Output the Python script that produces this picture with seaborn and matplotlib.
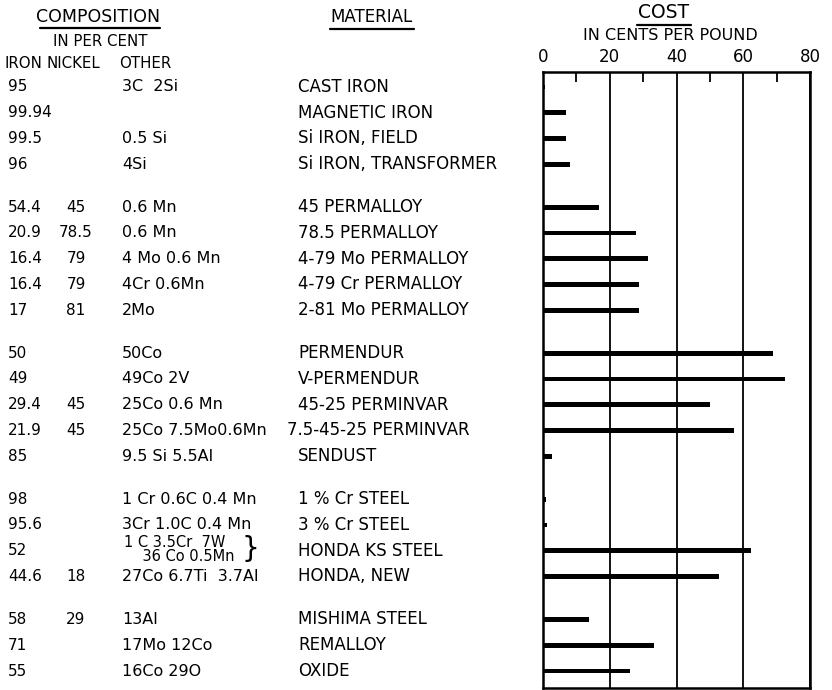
import numpy as np
import pandas as pd
import matplotlib.pyplot as plt
import matplotlib.transforms as mtransforms
from matplotlib.lines import Line2D
import seaborn as sns

# data
iron = ["95", "99.94", "99.5", "96",
        "54.4", "20.9", "16.4", "16.4", "17",
        "50", "49", "29.4", "21.9", "85",
        "98", "95.6", "52", "44.6",
        "58", "71", "55"]
nickel = ["", "", "", "",
          "45", "78.5", "79", "79", "81",
          "", "", "45", "45", "",
          "", "", "", "18",
          "29", "", ""]
other = ["3C  2Si", "", "0.5 Si", "4Si",
         "0.6 Mn", "0.6 Mn", "4 Mo 0.6 Mn", "4Cr 0.6Mn", "2Mo",
         "50Co", "49Co 2V", "25Co 0.6 Mn", "25Co 7.5Mo0.6Mn", "9.5 Si 5.5Al",
         "1 Cr 0.6C 0.4 Mn", "3Cr 1.0C 0.4 Mn", "1 C 3.5Cr  7W\n    36 Co 0.5Mn", "27Co 6.7Ti  3.7Al",
         "13Al", "17Mo 12Co", "16Co 29O"]
material = ["CAST IRON", "MAGNETIC IRON", "Si IRON, FIELD", "Si IRON, TRANSFORMER",
            "45 PERMALLOY", "78.5 PERMALLOY", "4-79 Mo PERMALLOY", "4-79 Cr PERMALLOY", "2-81 Mo PERMALLOY",
            "PERMENDUR", "V-PERMENDUR", "45-25 PERMINVAR", "7.5-45-25 PERMINVAR", "SENDUST",
            "1 % Cr STEEL", "3 % Cr STEEL", "HONDA KS STEEL", "HONDA, NEW",
            "MISHIMA STEEL", "REMALLOY", "OXIDE"]
cost = [0.6, 7, 7, 8,
        16.7, 27.8, 31.6, 28.8, 28.7,
        68.8, 72.6, 50, 57.1, 2.8,
        1, 1.2, 62.3, 52.8,
        13.7, 33.2, 26.1]
group = [0] * 4 + [1] * 5 + [2] * 5 + [3] * 4 + [4] * 3
cost_ticks = [0, 20, 40, 60, 80]

# row positions with a gap between groups
pos = np.arange(len(cost)) + 0.67 * np.array(group)
df = pd.DataFrame({"cost": cost, "pos": pos})

sns.set_style("white")
plt.rcParams["font.family"] = ["DejaVu Sans"]
plt.rcParams["text.color"] = "black"
plt.rcParams["xtick.color"] = "black"

W, H = 832, 690
fig = plt.figure(figsize=(W / 100, H / 100), dpi=100)
ax = fig.add_axes([543 / W, 1 - 688 / H, (810 - 543) / W, (688 - 72) / H])

sns.barplot(data=df, x="cost", y="pos", orient="h", native_scale=True,
            color="black", saturation=1, width=0.18, linewidth=0,
            errorbar=None, ax=ax)

ax.set_xlim(0, 80)
ax.set_ylim(pos[-1] + 0.66, pos[0] - 0.58)
ax.set_xlabel("")
ax.set_ylabel("")
ax.set_yticks([])
ax.xaxis.tick_top()
ax.set_xticks(cost_ticks)
ax.set_xticks([10, 30, 50, 70], minor=True)
ax.tick_params(axis="x", which="major", length=0, pad=4, labelsize=12,
               labelcolor="black")
ax.tick_params(axis="x", which="minor", direction="in", length=7, width=1.3,
               top=True, bottom=False, color="black")
ax.grid(axis="x", color="black", linewidth=1.3)
ax.set_axisbelow(True)
for spine in ax.spines.values():
    spine.set_visible(True)
    spine.set_linewidth(1.8)
    spine.set_edgecolor("black")

# text columns: x in figure pixels, y in data
row_tf = mtransforms.blended_transform_factory(fig.transFigure, ax.transData)
fs = 12
for i in range(len(cost)):
    y = pos[i]
    ax.text(8 / W, y, iron[i], transform=row_tf, fontsize=11, va="center", ha="left")
    if nickel[i]:
        ax.text(76 / W, y, nickel[i], transform=row_tf, fontsize=11, va="center", ha="center")
    if "\n" in other[i]:
        ax.text(124 / W, y - 0.05, other[i], transform=row_tf, fontsize=10.5,
                va="center", ha="left", linespacing=0.9)
        ax.text(241 / W, y - 0.05, "}", transform=row_tf, fontsize=20,
                va="center", ha="left")
    elif other[i]:
        ax.text(122 / W, y, other[i], transform=row_tf, fontsize=11.5, va="center", ha="left")
    mx = 287 if material[i].startswith("7.5") else 298
    ax.text(mx / W, y, material[i], transform=row_tf, fontsize=fs, va="center", ha="left")

# headers
def ftext(x, y, s, **kw):
    fig.text(x / W, 1 - y / H, s, **kw)

def uline(x0, x1, y):
    fig.add_artist(Line2D([x0 / W, x1 / W], [1 - y / H, 1 - y / H],
                          color="black", linewidth=1.6))

ftext(98, 17, "COMPOSITION", fontsize=12.5, ha="center", va="center")
uline(40, 160, 28)
ftext(100, 42, "IN PER CENT", fontsize=10.8, ha="center", va="center")
ftext(4, 63, "IRON", fontsize=10.8, ha="left", va="center")
ftext(47, 63, "NICKEL", fontsize=10.8, ha="left", va="center")
ftext(119, 63, "OTHER", fontsize=10.8, ha="left", va="center")
ftext(372, 17, "MATERIAL", fontsize=12, ha="center", va="center")
uline(330, 414, 29)
ftext(664, 13, "COST", fontsize=13.5, ha="center", va="center")
uline(637, 691, 25)
ftext(670, 35, "IN CENTS PER POUND", fontsize=11.5, ha="center", va="center")

fig.savefig("out.png", dpi=100)
